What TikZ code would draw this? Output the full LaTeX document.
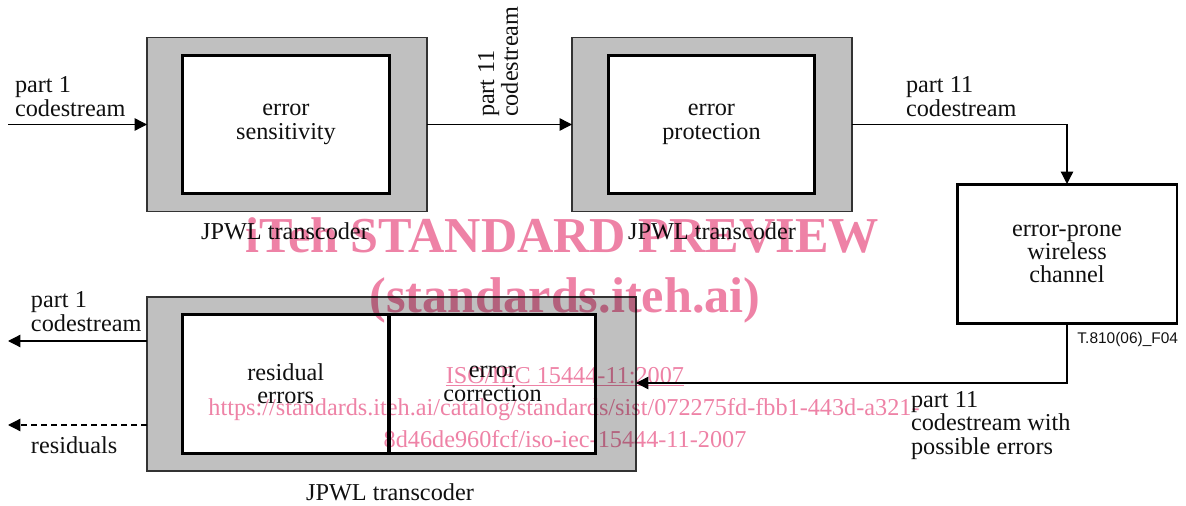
\documentclass[tikz,border=0pt]{standalone}
\usepackage{fontspec}
\setmainfont{Liberation Serif}
\newfontfamily\figsans{Liberation Sans}
\usetikzlibrary{arrows.meta}
\definecolor{boxgray}{RGB}{192,192,192}
\definecolor{wmpink}{RGB}{238,130,166}
\definecolor{ink}{RGB}{16,16,16}
% multi-line label whose baseline is that of its first line
\newcommand\stk[2][l]{\begin{tabular}[t]{@{}#1@{}}#2\end{tabular}}

\begin{document}
\begin{tikzpicture}[x=0.02cm, y=-0.02cm,
  every node/.style={inner sep=0pt, outer sep=0pt, text=ink,
    font=\rmfamily\fontsize{13.8}{13.3}\selectfont},
  transcoder/.style={draw=black!80, line width=0.7pt, fill=boxgray},
  unit/.style={draw=black, line width=1.7pt, fill=white, align=center},
  flow/.style={draw=black, line width=0.7pt, -{Triangle[length=7pt,width=7pt]}},
  resid/.style={flow, dash pattern=on 3.4pt off 2.3pt},
  caption/.style={anchor=base},
  wm/.style={text=wmpink, anchor=base}]
\useasboundingbox (0,0) rectangle (1186,506);

% upper chain: two transcoders
\node[transcoder, minimum width=5.6cm, minimum height=3.49cm] (t1) at (287,124.5) {};
\node[unit, minimum width=4.14cm, minimum height=2.78cm] (es) at (286,124.5) {error\\sensitivity};
\node[transcoder, minimum width=5.6cm, minimum height=3.49cm] (t2) at (712,124.5) {};
\node[unit, minimum width=4.14cm, minimum height=2.78cm] (ep) at (711.5,124.5) {error\\protection};
\node[caption] (c1) at (285,240) {JPWL transcoder};
\node[caption] (c2) at (712,240) {JPWL transcoder};

% transmission channel
\node[unit, minimum width=4.4cm, minimum height=2.8cm] (ch) at (1067,254) {error-prone\\wireless\\channel};
\node[anchor=base east, font=\figsans\fontsize{8.8}{10}\selectfont] (fig) at (1178,343) {T.810(06)\_F04};

% lower transcoder
\node[transcoder, minimum width=9.78cm, minimum height=3.48cm] (t3) at (391.5,384) {};
\node[unit, minimum width=4.13cm, minimum height=2.78cm] (re) at (285.75,384) {residual\\errors};
\node[unit, minimum width=4.14cm, minimum height=2.78cm] (ec) at (492.5,384) {error\\correction};
\node[caption] (c3) at (390,500) {JPWL transcoder};

% connectors
\coordinate (src) at (8,124.5);
\coordinate (out1) at (8,341);
\coordinate (out2) at (8,425);
\draw[flow] (src) -- (t1.west);
\draw[flow] (t1.east) -- (t2.west);
\draw[flow] (t2.east) -| (ch.north);
\draw[flow] (ch.south) |- ([yshift=0.02cm]t3.east);
\draw[flow] (t3.west |- out1) -- (out1);
\draw[resid] (t3.west |- out2) -- (out2);

% connector labels
\node[anchor=base west] (l1) at (15,93) {\stk{part 1\\codestream}};
\node[anchor=base west, rotate=90] (l2) at (494,117) {\stk{part 11\\codestream}};
\node[anchor=base west] (l3) at (906,93) {\stk{part 11\\codestream}};
\node[anchor=base west] (l4) at (911,407) {\stk{part 11\\codestream with\\possible errors}};
\node[anchor=base west] (l5) at (31,308) {\stk{part 1\\codestream}};
\node[anchor=base west] (l6) at (31,453) {residuals};

% watermark overlay
\begin{scope}[blend mode=multiply]
\node[wm, font=\rmfamily\bfseries\fontsize{28.6}{30}\selectfont] (wm1) at (562,253) {iTeh STANDARD PREVIEW};
\node[wm, font=\rmfamily\bfseries\fontsize{28.6}{30}\selectfont] (wm2) at (565,313) {(standards.iteh.ai)};
\node[wm] (wm3) at (565,383) {\underline{ISO/IEC 15444-11:2007}};
\node[wm] (wm4) at (564,415) {https://standards.iteh.ai/catalog/standards/sist/072275fd-fbb1-443d-a321-};
\node[wm] (wm5) at (565,447) {8d46de960fcf/iso-iec-15444-11-2007};
\end{scope}
\end{tikzpicture}
\end{document}
